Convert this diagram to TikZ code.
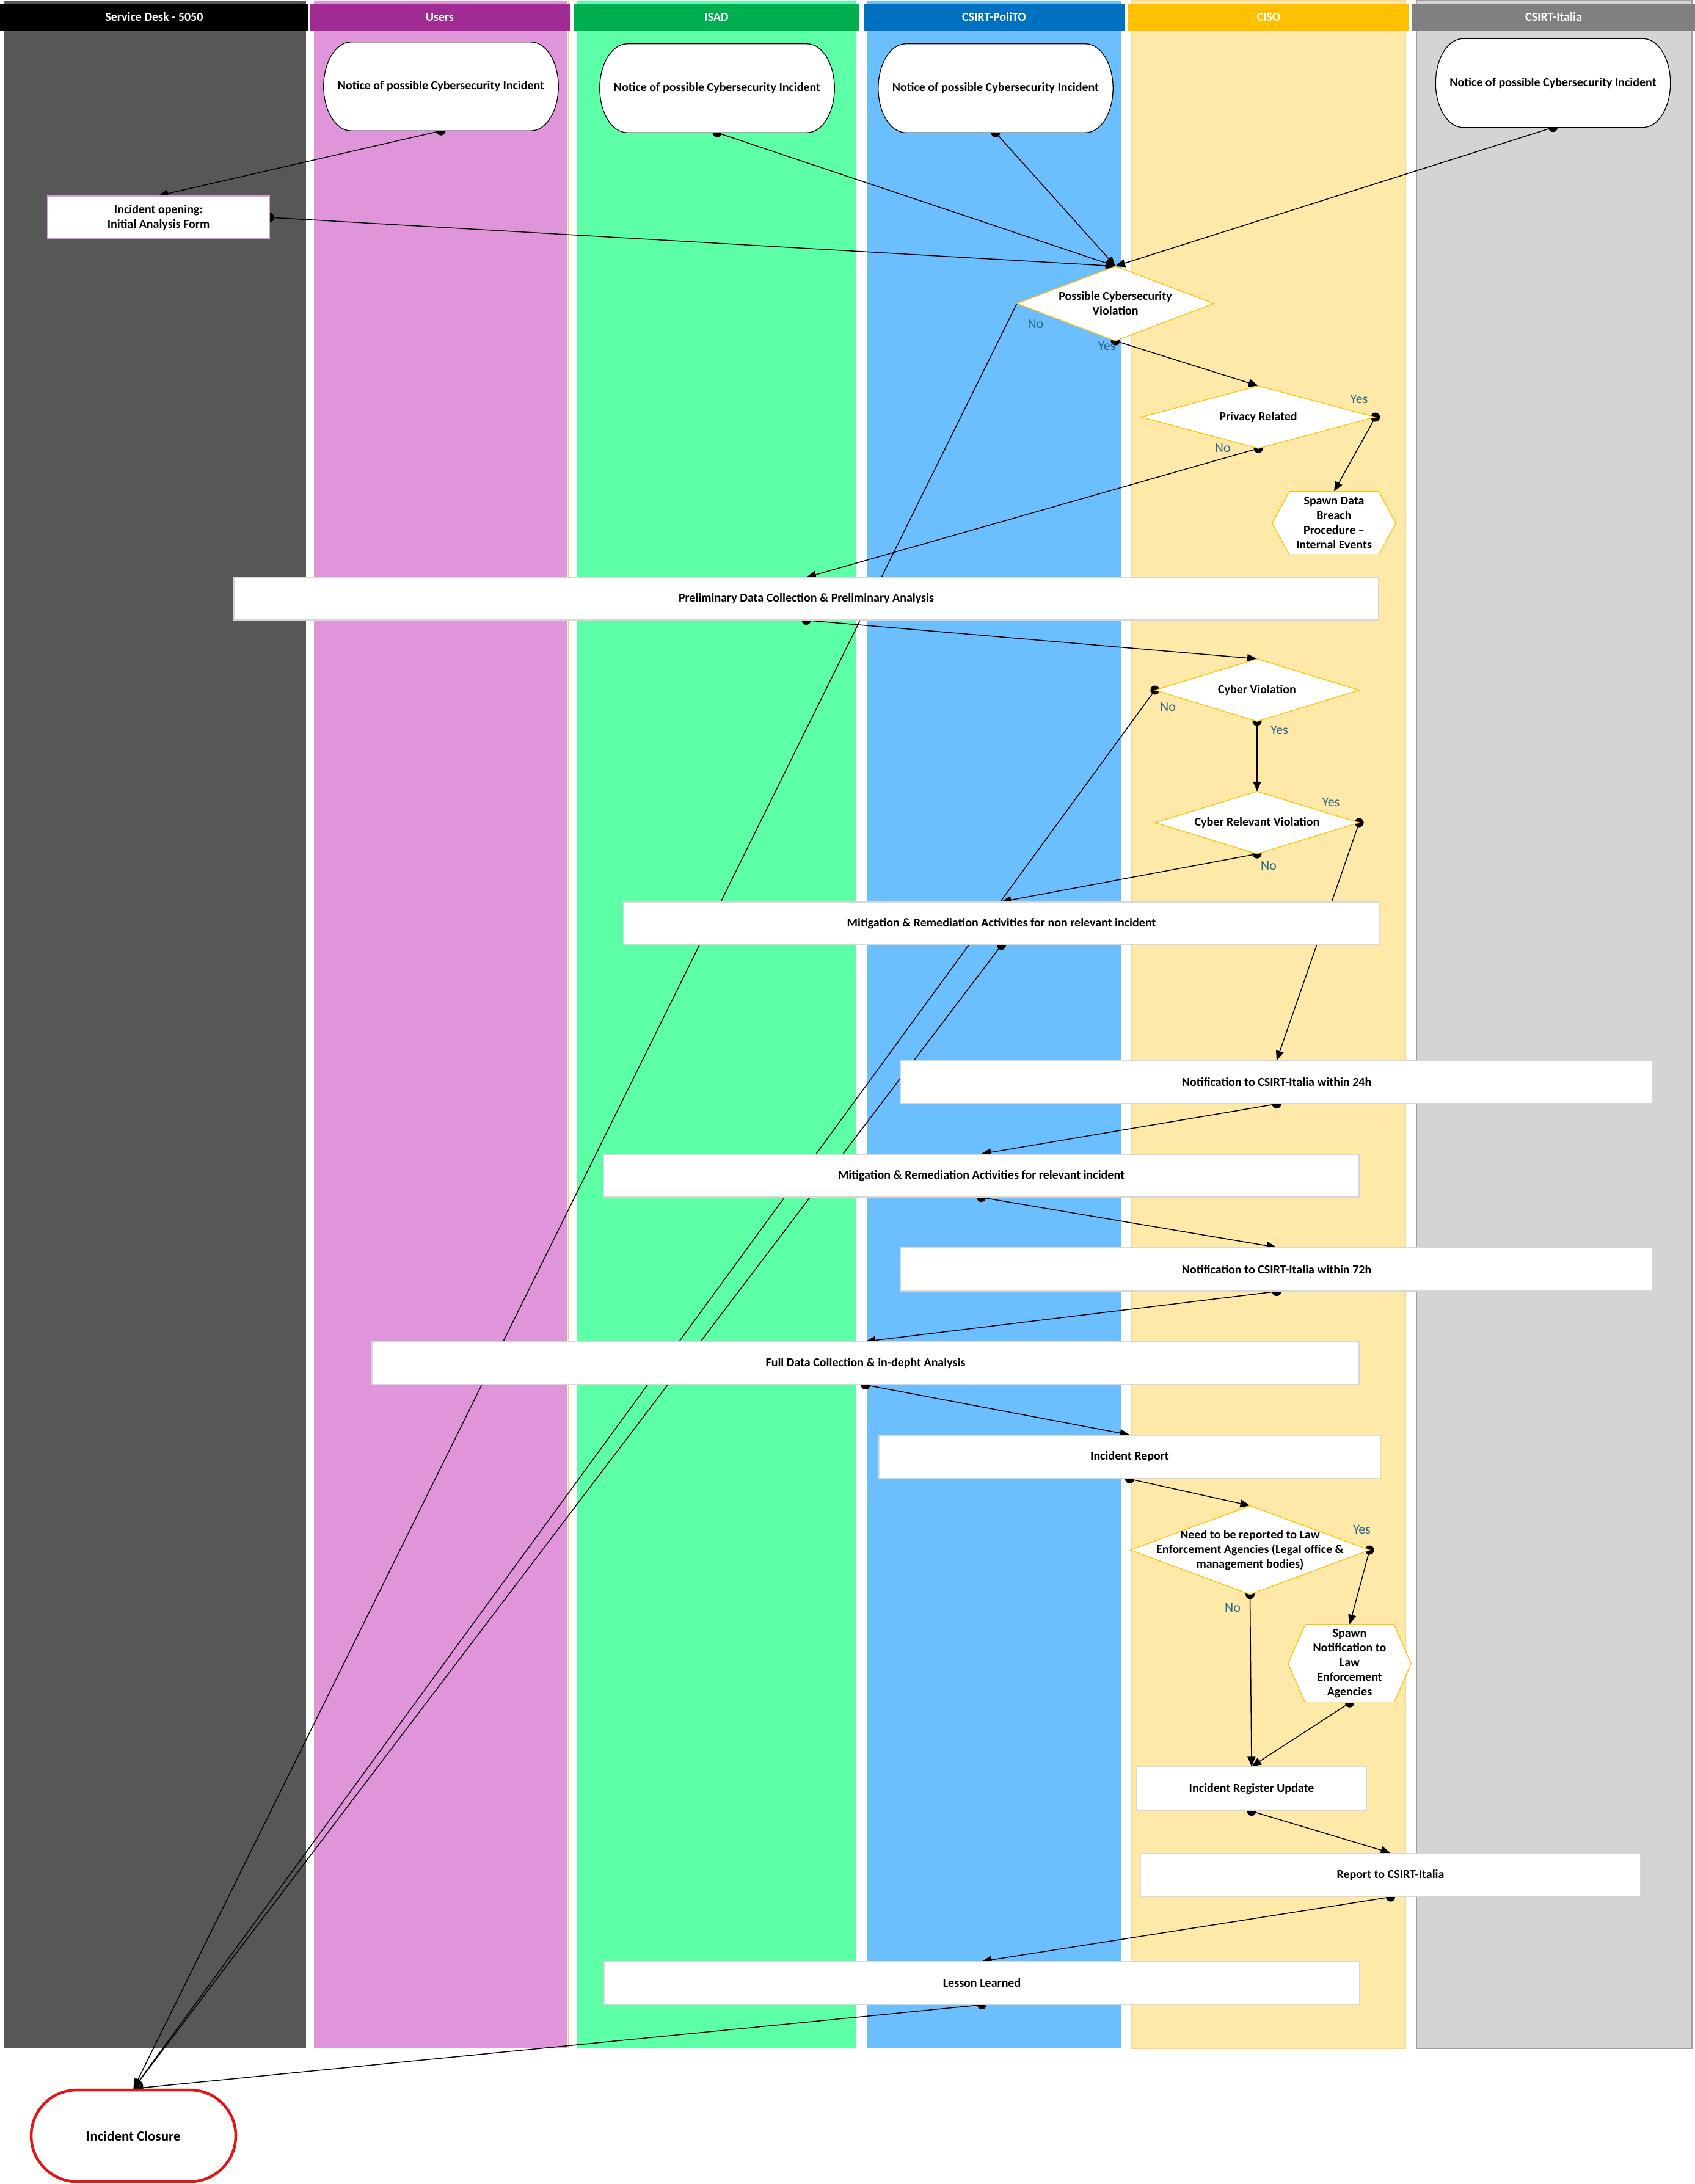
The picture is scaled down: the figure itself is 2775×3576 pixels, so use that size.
\documentclass[tikz,border=0pt]{standalone}
\usepackage{fontspec}
\setmainfont{Carlito}
\usetikzlibrary{arrows.meta,shapes.misc,calc}
\pgfdeclarelayer{lanes}
\pgfdeclarelayer{conn}
\pgfdeclarelayer{shp}
\pgfsetlayers{lanes,conn,shp,main}
\definecolor{sdH}{RGB}{0,0,0}
\definecolor{sdB}{RGB}{87,87,87}
\definecolor{usH}{RGB}{160,43,147}
\definecolor{usB}{RGB}{224,149,218}
\definecolor{isH}{RGB}{0,176,80}
\definecolor{isB}{RGB}{92,255,166}
\definecolor{poH}{RGB}{0,112,192}
\definecolor{poB}{RGB}{107,191,255}
\definecolor{ciH}{RGB}{255,192,0}
\definecolor{ciB}{RGB}{255,233,168}
\definecolor{itH}{RGB}{128,128,128}
\definecolor{itB}{RGB}{212,212,212}
\definecolor{lbl}{RGB}{40,100,135}
\definecolor{gold}{RGB}{255,192,0}
\definecolor{boxedge}{RGB}{215,215,215}
\definecolor{closered}{RGB}{230,20,20}
\tikzset{
  txt/.style={font=\bfseries\fontsize{20}{24}\selectfont, align=center, inner sep=0pt},
  hdr/.style={txt, text=white, minimum height=44pt},
  box/.style={txt, draw=boxedge, line width=1.2pt, fill=white},
  freeshape/.style={txt, draw=none, fill=none},
  outl/.style={draw=gold, fill=white, line width=1.3pt},
  noticeout/.style={draw=black, fill=white, line width=1.3pt},
  lbltxt/.style={font=\fontsize{22}{26}\selectfont, text=lbl, inner sep=0pt},
  conn/.style={line width=1.5pt, -{Triangle[length=16pt,width=13pt]}},
  dotn/.style={circle, fill=black, inner sep=0pt, minimum size=15pt},
  closing/.style={rounded rectangle, draw=closered, line width=4.5pt, fill=white,
    font=\bfseries\fontsize{23}{27}\selectfont, inner sep=0pt}
}
\newcommand\noticeshape[1]{%
  \path[noticeout] ([xshift=45pt]#1.north west) -- ([xshift=-45pt]#1.north east)
    .. controls +(25,0) and +(0,-40) .. (#1.east)
    .. controls +(0,40) and +(25,0) .. ([xshift=-45pt]#1.south east)
    -- ([xshift=45pt]#1.south west)
    .. controls +(-25,0) and +(0,40) .. (#1.west)
    .. controls +(0,-40) and +(-25,0) .. ([xshift=45pt]#1.north west) -- cycle;}
\newcommand\diashape[1]{%
  \path[outl] (#1.north) -- (#1.east) -- (#1.south) -- (#1.west) -- cycle;}
\newcommand\hexshape[1]{%
  \path[outl] ([xshift=28pt]#1.north west) -- ([xshift=-28pt]#1.north east) -- (#1.east)
    -- ([xshift=-28pt]#1.south east) -- ([xshift=28pt]#1.south west) -- (#1.west) -- cycle;}
\begin{document}
\begin{tikzpicture}[x=1pt,y=-1pt]
\useasboundingbox (0,0) rectangle (2775,3576);

% ---- headers
\node[hdr, fill=sdH, minimum width=505pt] (hSD) at (252.5,28) {Service Desk - 5050};
\node[hdr, fill=usH, minimum width=426pt] (hUS) at (720,28) {Users};
\node[hdr, fill=isH, minimum width=468pt] (hIS) at (1173,28) {ISAD};
\node[hdr, fill=poH, minimum width=427pt] (hPO) at (1627.5,28) {CSIRT-PoliTO};
\node[hdr, fill=ciH, minimum width=460pt] (hCI) at (2077,28) {CISO};
\node[hdr, fill=itH, minimum width=463pt] (hIT) at (2543.5,28) {CSIRT-Italia};

% ---- nodes
\node[freeshape, minimum width=384pt, minimum height=145pt] (nU) at (722,141.5) {Notice of possible Cybersecurity Incident};
\node[freeshape, minimum width=384pt, minimum height=145pt] (nI) at (1174,144.5) {Notice of possible Cybersecurity Incident};
\node[freeshape, minimum width=384pt, minimum height=145pt] (nP) at (1630,144.5) {Notice of possible Cybersecurity Incident};
\node[freeshape, minimum width=384pt, minimum height=145pt] (nC) at (2542.5,136) {Notice of possible Cybersecurity Incident};

\node[box, draw=usH!45, minimum width=363pt, minimum height=70pt] (bO) at (259.5,356) {Incident opening:\\Initial Analysis Form};

\node[freeshape, minimum width=322pt, minimum height=122pt] (d1) at (1826,497) {Possible Cybersecurity\\Violation};
\node[freeshape, minimum width=383pt, minimum height=102pt] (d2) at (2060,683) {Privacy Related};
\node[freeshape, minimum width=202pt, minimum height=103pt] (h1) at (2184,856.5) {Spawn Data\\Breach\\Procedure --\\Internal Events};
\node[box, minimum width=1874pt, minimum height=69pt] (bP) at (1320,980.5) {Preliminary Data Collection \& Preliminary Analysis};
\node[freeshape, minimum width=334pt, minimum height=102pt] (d3) at (2058,1130) {Cyber Violation};
\node[freeshape, minimum width=334pt, minimum height=102pt] (d4) at (2058,1347) {Cyber Relevant Violation};
\node[box, minimum width=1237pt, minimum height=70pt] (bM1) at (1639.5,1512) {Mitigation \& Remediation Activities for non relevant incident};
\node[box, minimum width=1232pt, minimum height=70pt] (bN24) at (2090,1772) {Notification to CSIRT-Italia within 24h};
\node[box, minimum width=1237pt, minimum height=70pt] (bM2) at (1606.5,1925) {Mitigation \& Remediation Activities for relevant incident};
\node[box, minimum width=1232pt, minimum height=71pt] (bN72) at (2090,2078.5) {Notification to CSIRT-Italia within 72h};
\node[box, minimum width=1616pt, minimum height=70pt] (bF) at (1417,2232) {Full Data Collection \& in-depht Analysis};
\node[box, minimum width=821pt, minimum height=71pt] (bR) at (1849.5,2385.5) {Incident Report};
\node[freeshape, minimum width=391pt, minimum height=145pt] (d5) at (2046.5,2538) {Need to be reported to Law\\Enforcement Agencies (Legal office \&\\management bodies)};
\node[freeshape, minimum width=201pt, minimum height=128pt] (h2) at (2209.5,2724) {Spawn\\Notification to\\Law\\Enforcement\\Agencies};
\node[box, minimum width=376pt, minimum height=72pt] (bIR) at (2049,2929) {Incident Register Update};
\node[box, minimum width=819pt, minimum height=71pt] (bRC) at (2276.5,3070) {Report to CSIRT-Italia};
\node[box, minimum width=1237pt, minimum height=70pt] (bL) at (1607.5,3247) {Lesson Learned};
\node[closing, minimum width=335pt, minimum height=150pt] (bC) at (218.5,3497) {Incident Closure};

% ---- labels
\node[lbltxt] (l1n) at (1695.5,530.5) {No};
\node[lbltxt] (l1y) at (1812,566.7) {Yes};
\node[lbltxt] (l2y) at (2225,653.7) {Yes};
\node[lbltxt] (l2n) at (2001.8,733.4) {No};
\node[lbltxt] (l3n) at (1912,1158) {No};
\node[lbltxt] (l3y) at (2094.5,1196) {Yes};
\node[lbltxt] (l4y) at (2179,1314) {Yes};
\node[lbltxt] (l4n) at (2077,1417) {No};
\node[lbltxt] (l5y) at (2229.6,2504) {Yes};
\node[lbltxt] (l5n) at (2018,2632) {No};

% ---- outlines of non-rectangular shapes
\begin{pgfonlayer}{shp}
\noticeshape{nU}
\noticeshape{nI}
\noticeshape{nP}
\noticeshape{nC}
\diashape{d1}
\diashape{d2}
\diashape{d3}
\diashape{d4}
\diashape{d5}
\hexshape{h1}
\hexshape{h2}
\end{pgfonlayer}

% ---- connectors
\begin{pgfonlayer}{conn}
\draw[conn] (nU.south) node[dotn]{} -- (bO.north);
\draw[conn] (bO.east) node[dotn]{} -- (d1.north);
\draw[conn] (nI.south) node[dotn]{} -- (d1.north);
\draw[conn] (nP.south) node[dotn]{} -- (d1.north);
\draw[conn] (nC.south) node[dotn]{} -- (d1.north);
\draw[conn] (d1.south) node[dotn]{} -- (d2.north);
\draw[conn] (d1.west) -- (bC.north);
\draw[conn] (d2.south) node[dotn]{} -- (bP.north);
\draw[conn] (d2.east) node[dotn]{} -- (h1.north);
\draw[conn] (bP.south) node[dotn]{} -- (d3.north);
\draw[conn] (d3.west) node[dotn]{} -- (bC.north);
\draw[conn] (d3.south) node[dotn]{} -- (d4.north);
\draw[conn] (d4.south) node[dotn]{} -- (bM1.north);
\draw[conn] (d4.east) node[dotn]{} -- (bN24.north);
\draw[conn] (bM1.south) node[dotn]{} -- (bC.north);
\draw[conn] (bN24.south) node[dotn]{} -- (bM2.north);
\draw[conn] (bM2.south) node[dotn]{} -- (bN72.north);
\draw[conn] (bN72.south) node[dotn]{} -- (bF.north);
\draw[conn] (bF.south) node[dotn]{} -- (bR.north);
\draw[conn] (bR.south) node[dotn]{} -- (d5.north);
\draw[conn] (d5.east) node[dotn]{} -- (h2.north);
\draw[conn] (d5.south) node[dotn]{} -- (bIR.north);
\draw[conn] (h2.south) node[dotn]{} -- (bIR.north);
\draw[conn] (bIR.south) node[dotn]{} -- (bRC.north);
\draw[conn] (bRC.south) node[dotn]{} -- (bL.north);
\draw[conn] (bL.south) node[dotn]{} -- (bC.north);
\end{pgfonlayer}

% ---- lanes
\begin{pgfonlayer}{lanes}
\fill[white] (0,0) rectangle (2775,3576);
\fill[sdB] (7,1) rectangle (501,3354);
\fill[usB] (514,1) rectangle (929,3354);
\draw[ciB!70!orange, line width=1.2pt] (931,1) -- (931,3354);
\fill[isB] (944,1) rectangle (1402,3354);
\fill[poB] (1420,1) rectangle (1835,3354);
\filldraw[fill=ciB, draw=ciB!80!orange, line width=1.2pt] (1853,1) rectangle (2301,3354);
\filldraw[fill=itB, draw=itB!75!black, line width=1.5pt] (2319,1) rectangle (2770,3354);
\end{pgfonlayer}
\end{tikzpicture}
\end{document}
